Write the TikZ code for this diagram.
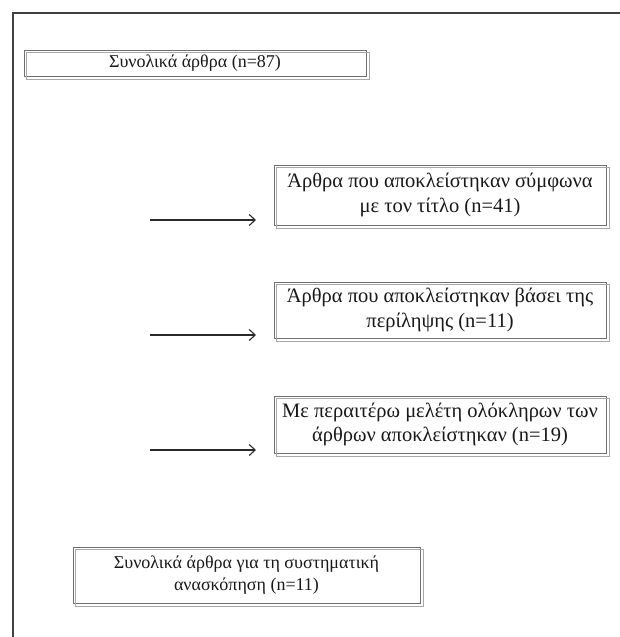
\documentclass[tikz,border=0pt]{standalone}
\usepackage{fontspec}
\setmainfont{Liberation Serif}
\usetikzlibrary{arrows.meta}
\definecolor{frameC}{HTML}{404040}
\definecolor{boxA}{HTML}{707070}
\definecolor{boxB}{HTML}{A8A8A8}
\definecolor{arrC}{HTML}{2A2A2A}
\tikzset{
  flowbox/.style={draw=boxA, line width=0.9pt, fill=white, inner sep=0pt,
    align=center, font=\fontsize{18}{22}\selectfont, text=black!90},
  bigtext/.style={font=\fontsize{20.5}{24.5}\selectfont},
  shadowbox/.style={draw=boxB, line width=0.9pt},
  flowarrow/.style={draw=arrC, line width=1.3pt, -{Straight Barb[length=6pt,width=11pt,line width=1.1pt]}},
  frameline/.style={draw=frameC, line width=2pt}
}
\newcommand{\shadowrect}[1]{\draw[shadowbox] ([shift={(3,3)}]#1.north west) rectangle ([shift={(3,3)}]#1.south east);}
\begin{document}
\begin{tikzpicture}[x=1pt,y=-1pt]
\useasboundingbox (0,0) rectangle (620,637);
\fill[white] (0,0) rectangle (620,637);
% frame (top and left)
\coordinate (fr1) at (620,13);
\coordinate (fr2) at (12.5,13);
\coordinate (fr3) at (12.5,637);
\draw[frameline] (fr1) -- (fr2) -- (fr3);

% boxes
\node[flowbox, minimum width=342pt, minimum height=26pt] (b1) at (195,63) {\raisebox{1.5pt}{Συνολικά άρθρα (n=87)}};
\shadowrect{b1}
\node[flowbox, bigtext, minimum width=332pt, minimum height=60pt] (b2) at (440,195)
  {\raisebox{5pt}{\begin{tabular}{@{}c@{}}Άρθρα που αποκλείστηκαν σύμφωνα\\με τον τίτλο (n=41)\end{tabular}}};
\shadowrect{b2}
\node[flowbox, bigtext, minimum width=332pt, minimum height=56pt] (b3) at (440,310)
  {\raisebox{4pt}{\begin{tabular}{@{}c@{}}Άρθρα που αποκλείστηκαν βάσει της\\περίληψης (n=11)\end{tabular}}};
\shadowrect{b3}
\node[flowbox, bigtext, minimum width=332pt, minimum height=57pt] (b4) at (440,424.5)
  {\raisebox{4pt}{\begin{tabular}{@{}c@{}}Με περαιτέρω μελέτη ολόκληρων των\\άρθρων αποκλείστηκαν (n=19)\end{tabular}}};
\shadowrect{b4}
\node[flowbox, minimum width=347pt, minimum height=56pt] (b5) at (246.5,575)
  {\raisebox{5pt}{\begin{tabular}{@{}c@{}}Συνολικά άρθρα για τη συστηματική\\ανασκόπηση (n=11)\end{tabular}}};
\shadowrect{b5}

% arrows
\coordinate (a2s) at (150,220); \coordinate (a2e) at (256,220);
\coordinate (a3s) at (150,335); \coordinate (a3e) at (256,335);
\coordinate (a4s) at (150,450); \coordinate (a4e) at (256,450);
\draw[flowarrow] (a2s) -- (a2e);
\draw[flowarrow] (a3s) -- (a3e);
\draw[flowarrow] (a4s) -- (a4e);
\end{tikzpicture}
\end{document}
